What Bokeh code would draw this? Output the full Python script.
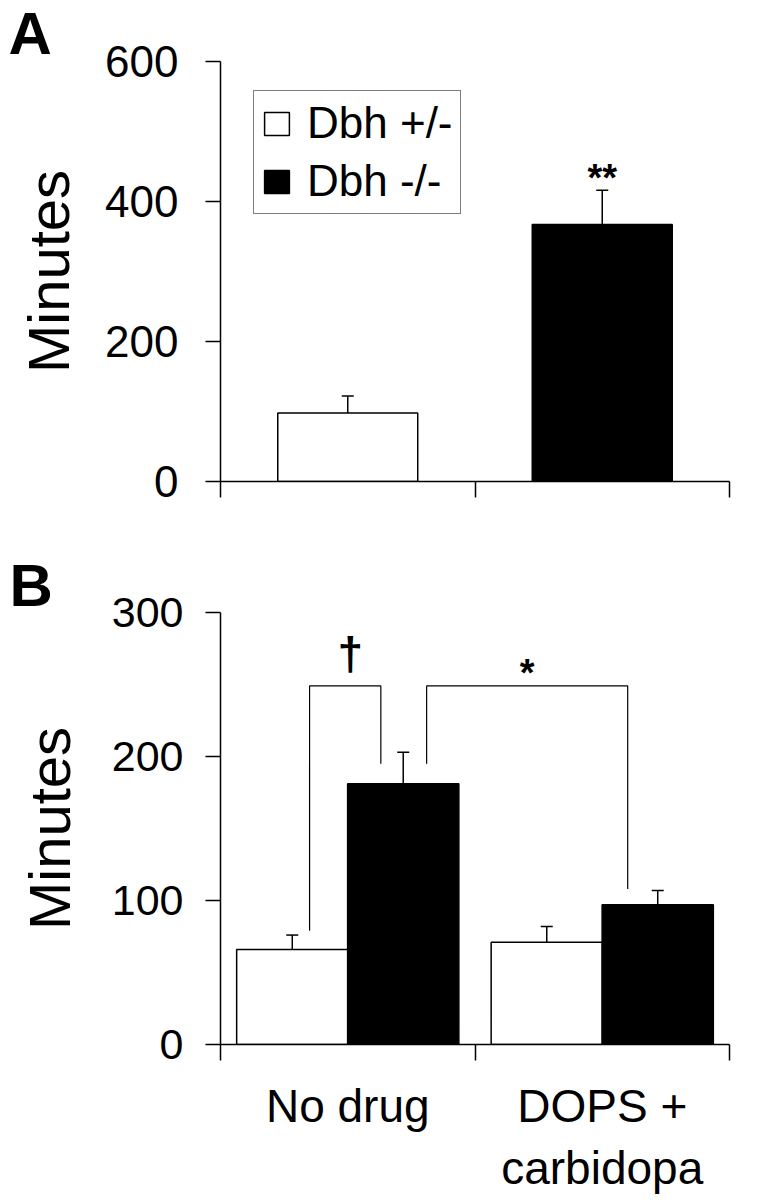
from bokeh.plotting import figure
from bokeh.models import (ColumnDataSource, FixedTicker, Whisker, TeeHead, Legend,
                          LegendItem, Range1d, Title)
from bokeh.layouts import column
from bokeh.core.properties import value
from bokeh.embed import file_html
from bokeh.resources import INLINE

FONT = "Liberation Sans"

# ---------------- data: panel A ----------------
genotypes = ["Dbh +/-", "Dbh -/-"]
genotype_fill = ["white", "black"]
a_means = [98, 367]
a_err_top = [122, 416]          # top of upper error bar
a_yticks = [0, 200, 400, 600]
a_sig = ["**"]                  # over Dbh -/-
a_sig_y = [434]

# ---------------- data: panel B ----------------
conditions = ["No drug", "DOPS +\ncarbidopa"]
b_het_means = [66, 71]
b_het_err_top = [76, 82]
b_ko_means = [181, 97]
b_ko_err_top = [203, 107]
b_yticks = [0, 100, 200, 300]
# significance brackets (x in category units, y in minutes)
bracket_xs = [[0.35, 0.35, 0.63, 0.63], [0.81, 0.81, 1.60, 1.60]]
bracket_ys = [[79, 249, 249, 195], [195, 249, 249, 108]]
bracket_marks = ["\u2020", "*"]
bracket_mark_x = [0.51, 1.205]
bracket_mark_y = [271, 258]
bracket_mark_size = ["46px", "38px"]


def style_common(p):
    p.outline_line_color = None
    p.xgrid.grid_line_color = None
    p.ygrid.grid_line_color = None
    p.background_fill_color = "white"
    p.border_fill_color = "white"


# ================= Panel A =================
pA = figure(width=764, height=540, x_range=Range1d(0, 2), y_range=Range1d(0, 600),
            output_backend="svg", toolbar_location=None,
            min_border_left=219, min_border_right=35, min_border_top=61,
            min_border_bottom=59)
style_common(pA)
pA.add_layout(Title(text="A", align="left", offset=-212, standoff=-14,
                    text_font=FONT, text_font_size="60px", text_font_style="bold",
                    text_color="black", vertical_align="top"), "above")

bar_w_A = 0.55
rendA = []
for i, g in enumerate(genotypes):
    src = ColumnDataSource(dict(x=[i + 0.5], top=[a_means[i]], up=[a_err_top[i]]))
    r = pA.vbar(x="x", top="top", width=bar_w_A, bottom=0, source=src,
                fill_color=genotype_fill[i], line_color="black", line_width=1.5)
    rendA.append(r)
    pA.add_layout(Whisker(base="x", lower="top", upper="up", source=src,
                          lower_head=None,
                          upper_head=TeeHead(size=12, line_width=1.5, line_color="black"),
                          line_width=1.5, line_color="black"))

pA.text(x=[1.5], y=a_sig_y, text=a_sig, text_font=value(FONT), text_font_size="38px",
        text_font_style="bold", text_align="center", text_baseline="alphabetic",
        text_color="black")

legend = Legend(items=[LegendItem(label=g, renderers=[r]) for g, r in zip(genotypes, rendA)],
                location=(33, 267), label_text_font=FONT, label_text_font_size="44px",
                label_text_color="black",
                glyph_width=31, glyph_height=29, label_standoff=15, padding=7,
                spacing=8, border_line_color="black", border_line_width=1.5,
                background_fill_alpha=1, margin=0, label_height=29)
pA.add_layout(legend)

xa = pA.xaxis[0]
xa.ticker = FixedTicker(ticks=[0, 1, 2])
xa.major_label_overrides = {0: "", 1: "", 2: ""}
xa.major_tick_out = 16
xa.major_tick_in = 0
xa.minor_tick_line_color = None
xa.axis_line_width = 1.5
xa.major_tick_line_width = 1.5

ya = pA.yaxis[0]
ya.ticker = FixedTicker(ticks=a_yticks)
ya.major_tick_out = 15
ya.major_tick_in = 0
ya.minor_tick_line_color = None
ya.axis_line_width = 1.5
ya.major_tick_line_width = 1.5
ya.major_label_text_font = FONT
ya.major_label_text_font_size = "44px"
ya.major_label_text_color = "black"
ya.major_label_standoff = 27
ya.axis_label = "Minutes"
ya.axis_label_text_font = FONT
ya.axis_label_text_font_size = "58px"
ya.axis_label_text_font_style = "normal"
ya.axis_label_text_color = "black"
ya.axis_label_standoff = 21

# ================= Panel B =================
pB = figure(width=764, height=660, x_range=Range1d(0, 2), y_range=Range1d(0, 300),
            output_backend="svg", toolbar_location=None,
            min_border_left=220, min_border_right=3, min_border_top=72,
            min_border_bottom=156)
style_common(pB)
pB.add_layout(Title(text="B", align="left", offset=-211, standoff=-12,
                    text_font=FONT, text_font_size="60px", text_font_style="bold",
                    text_color="black", vertical_align="bottom"), "above")

bar_w_B = 0.437
dodge_B = 0.218
centers = [i + 0.5 for i in range(len(conditions))]
for means, tops, off, fill in [(b_het_means, b_het_err_top, -dodge_B, genotype_fill[0]),
                               (b_ko_means, b_ko_err_top, dodge_B, genotype_fill[1])]:
    src = ColumnDataSource(dict(x=[c + off for c in centers], top=means, up=tops))
    pB.vbar(x="x", top="top", width=bar_w_B, bottom=0, source=src,
            fill_color=fill, line_color="black", line_width=1.5)
    pB.add_layout(Whisker(base="x", lower="top", upper="up", source=src,
                          lower_head=None,
                          upper_head=TeeHead(size=12, line_width=1.5, line_color="black"),
                          line_width=1.5, line_color="black"))

pB.multi_line(xs=bracket_xs, ys=bracket_ys, line_color="black", line_width=1.2)
pB.text(x=bracket_mark_x, y=bracket_mark_y, text=bracket_marks, text_font=value(FONT),
        text_font_size=bracket_mark_size, text_font_style="bold", text_align="center",
        text_baseline="alphabetic", text_color="black")

xb = pB.xaxis[0]
xb.ticker = FixedTicker(ticks=centers, minor_ticks=[0, 1, 2])
xb.major_label_overrides = {c: lab for c, lab in zip(centers, conditions)}
xb.major_tick_out = 0
xb.major_tick_in = 0
xb.minor_tick_out = 16
xb.minor_tick_in = 0
xb.minor_tick_line_width = 1.5
xb.minor_tick_line_color = "black"
xb.axis_line_width = 1.5
xb.major_label_text_font = FONT
xb.major_label_text_font_size = "46px"
xb.major_label_text_color = "black"
xb.major_label_standoff = 19

yb = pB.yaxis[0]
yb.ticker = FixedTicker(ticks=b_yticks)
yb.major_tick_out = 15
yb.major_tick_in = 0
yb.minor_tick_line_color = None
yb.axis_line_width = 1.5
yb.major_tick_line_width = 1.5
yb.major_label_text_font = FONT
yb.major_label_text_font_size = "43px"
yb.major_label_text_color = "black"
yb.major_label_standoff = 22
yb.axis_label = "Minutes"
yb.axis_label_text_font = FONT
yb.axis_label_text_font_size = "58px"
yb.axis_label_text_font_style = "normal"
yb.axis_label_text_color = "black"
yb.axis_label_standoff = 27

layout = column(pA, pB)
open("out.html", "w").write(file_html(layout, INLINE))
